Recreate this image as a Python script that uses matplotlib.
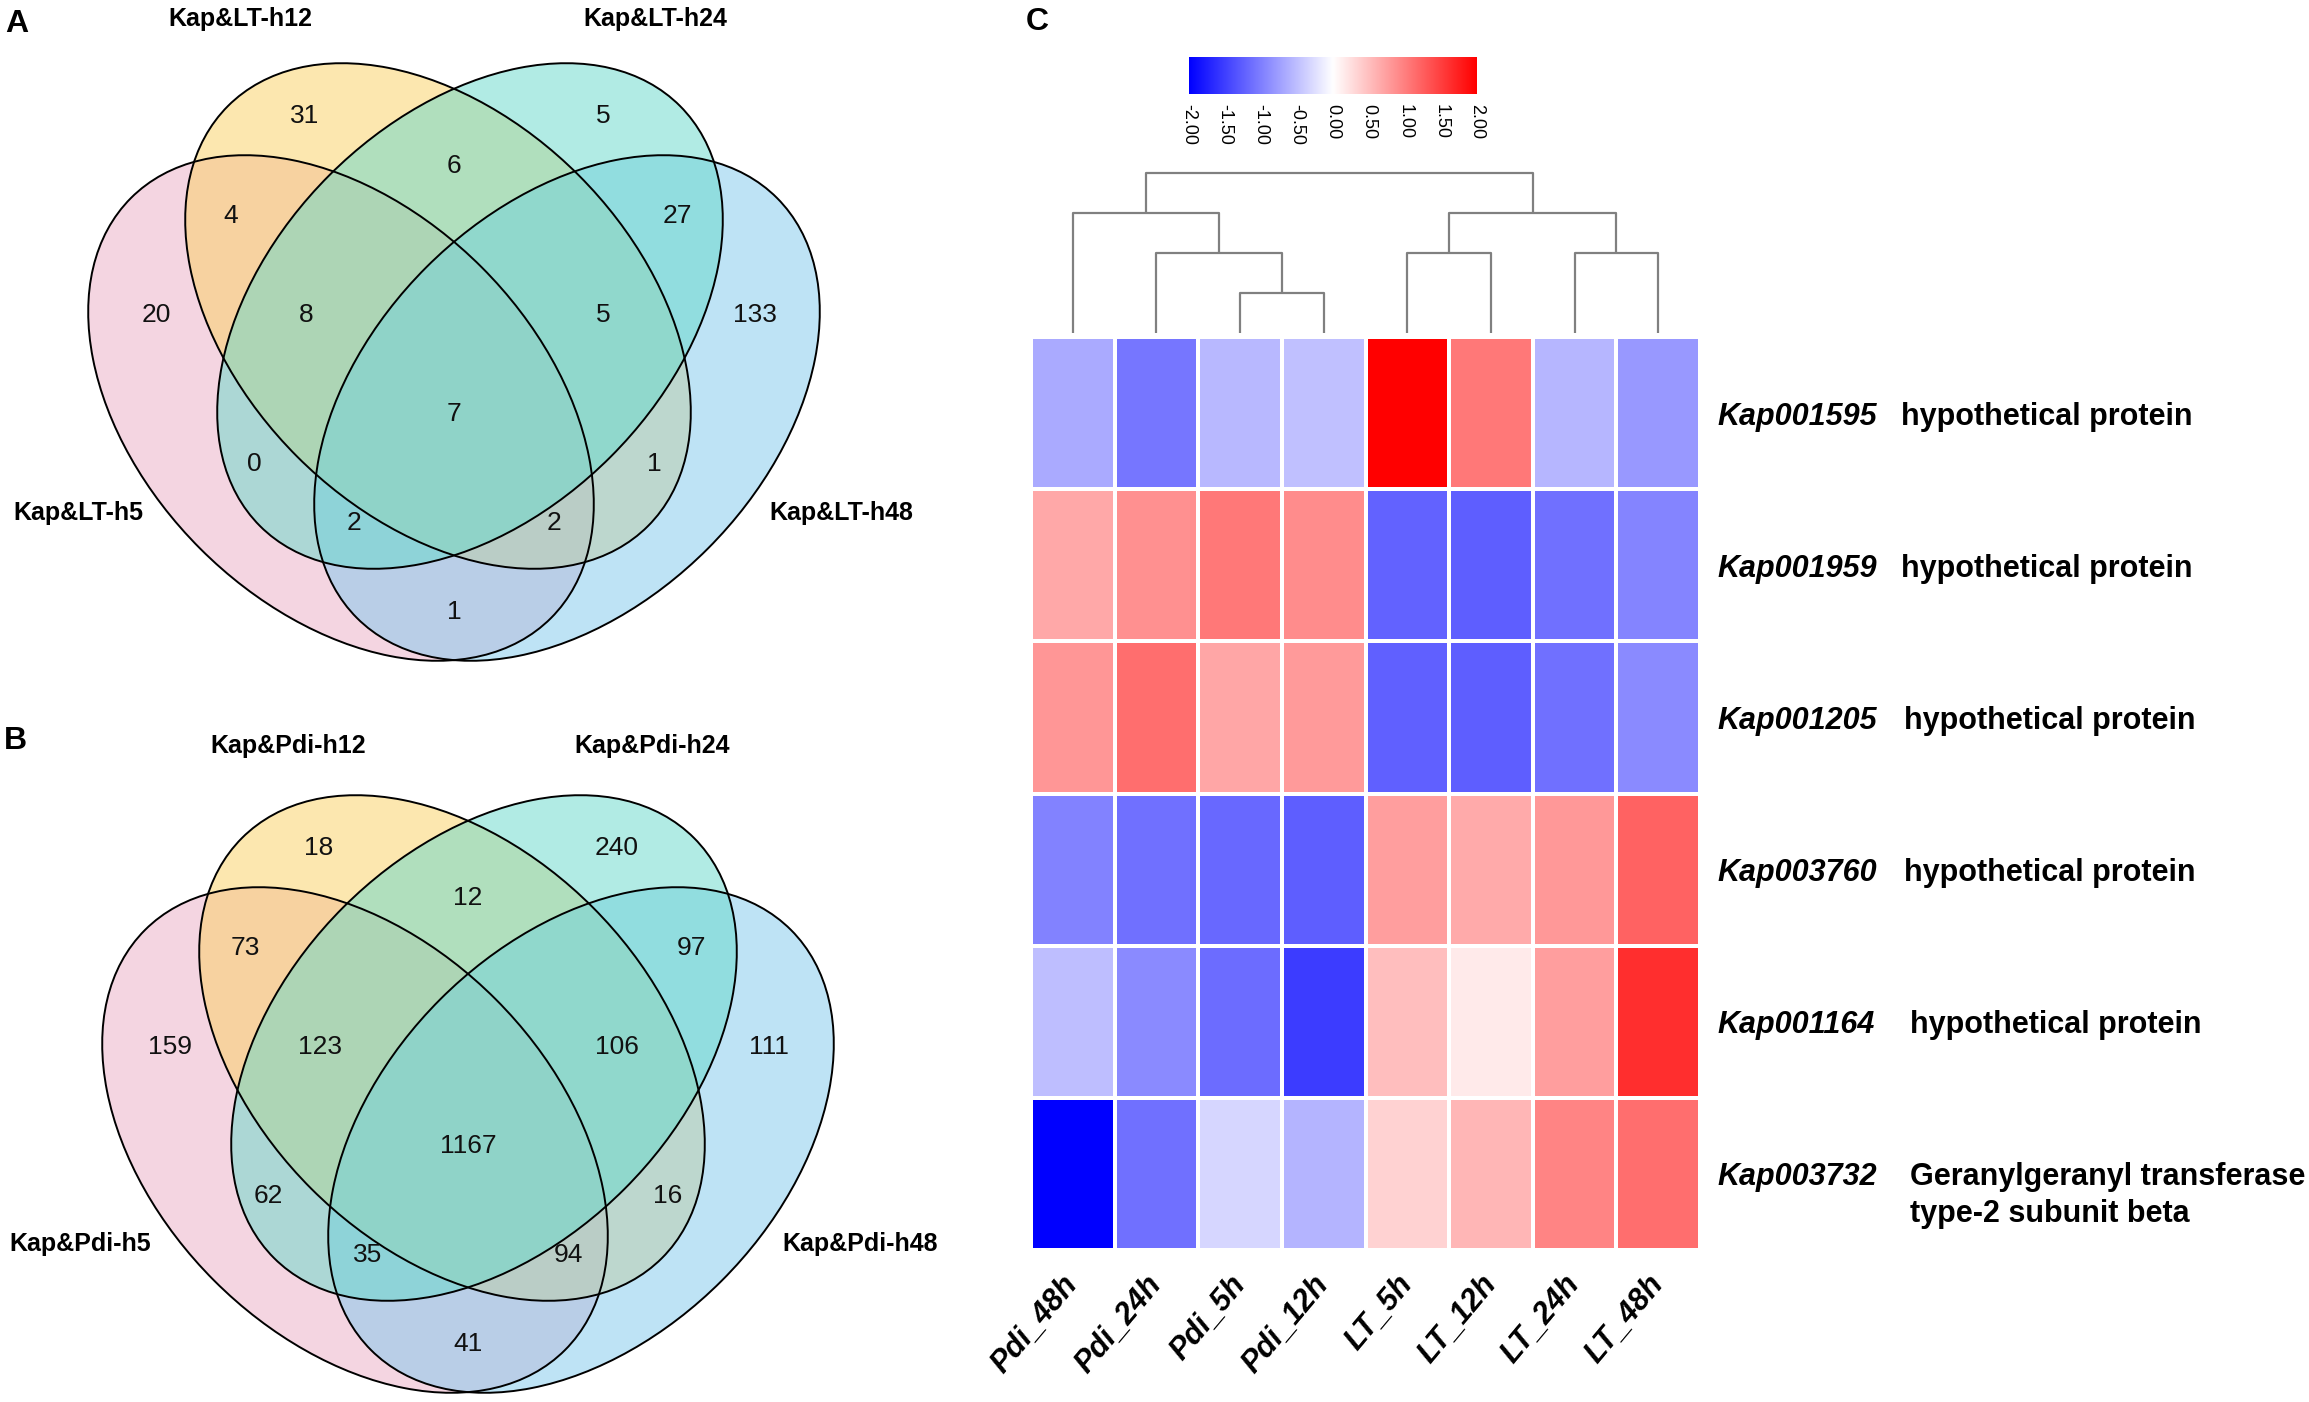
import numpy as np
import matplotlib
matplotlib.use("Agg")
import matplotlib.pyplot as plt
from matplotlib.patches import Ellipse
from matplotlib.colors import LinearSegmentedColormap

plt.rcParams['font.family'] = ['Liberation Sans', 'DejaVu Sans']

W, H = 2309, 1402

# ---------------- data ----------------
region_keys = ["h12", "h24", "h12&h24", "h5&h12", "h24&h48", "h5", "h5&h12&h24",
               "h12&h24&h48", "h48", "all", "h5&h24", "h12&h48", "h5&h24&h48",
               "h5&h12&h48", "h5&h48"]
lt_counts = [31, 5, 6, 4, 27, 20, 8, 5, 133, 7, 0, 1, 2, 2, 1]
pdi_counts = [18, 240, 12, 73, 97, 159, 123, 106, 111, 1167, 62, 16, 35, 94, 41]
lt_sets = ["Kap&LT-h5", "Kap&LT-h12", "Kap&LT-h24", "Kap&LT-h48"]
pdi_sets = ["Kap&Pdi-h5", "Kap&Pdi-h12", "Kap&Pdi-h24", "Kap&Pdi-h48"]

samples = ["Pdi_48h", "Pdi_24h", "Pdi_5h", "Pdi_12h", "LT_5h", "LT_12h", "LT_24h", "LT_48h"]
gene_ids = ["Kap001595", "Kap001959", "Kap001205", "Kap003760", "Kap001164", "Kap003732"]
gene_desc = ["hypothetical protein", "hypothetical protein", "hypothetical protein",
             "hypothetical protein", "hypothetical protein",
             "Geranylgeranyl transferase\ntype-2 subunit beta"]
expr = [
    [-0.67, -1.07, -0.55, -0.49, 2.00, 1.06, -0.57, -0.81],
    [0.68, 0.87, 1.06, 0.90, -1.23, -1.26, -1.12, -0.96],
    [0.82, 1.14, 0.70, 0.79, -1.25, -1.26, -1.11, -0.92],
    [-0.98, -1.12, -1.18, -1.26, 0.76, 0.67, 0.81, 1.23],
    [-0.51, -0.92, -1.15, -1.52, 0.51, 0.16, 0.76, 1.64],
    [-2.00, -1.11, -0.32, -0.59, 0.35, 0.57, 0.96, 1.14],
]
# column dendrogram merges: (left node, right node, height)
col_linkage = [(2, 3, 1), (1, 8, 2), (4, 5, 2), (6, 7, 2), (0, 9, 3), (10, 11, 3), (12, 13, 4)]
cbar_ticks = [-2.0, -1.5, -1.0, -0.5, 0.0, 0.5, 1.0, 1.5, 2.0]

# ---------------- layout / style ----------------
venn_fill = ["#ebadc5", "#fbd161", "#65d9cb", "#7fc9ed"]   # h5, h12, h24, h48
draw_order = [0, 1, 3, 2]
# ellipse geometry relative to (axis x, bottom y) in pixels, y up
ell_geom = [(-113, 253, 135), (-16, 345, 135), (16, 345, 45), (113, 253, 45)]
ELL_A, ELL_B = 297, 199
region_xy = [(-149, 545), (149, 545), (0, 495), (-223, 445), (223, 445), (-298, 346),
             (-148, 346), (149, 346), (301, 346), (0, 247), (-200, 197), (200, 197),
             (-100, 138), (100, 138), (0, 49)]

fig = plt.figure(figsize=(W / 100, H / 100), dpi=100)
canvas = fig.add_axes([0, 0, 1, 1])
canvas.set_xlim(0, W)
canvas.set_ylim(0, H)
canvas.axis('off')


def Y(ypx):
    return H - ypx


def px_axes(x0, y0, x1, y1):
    return fig.add_axes([x0 / W, 1 - y1 / H, (x1 - x0) / W, (y1 - y0) / H])


def draw_venn(cx, by, counts, names, label_pos):
    base_y = Y(by)
    for k in draw_order:
        dx, dy, ang = ell_geom[k]
        canvas.add_patch(Ellipse((cx + dx, base_y + dy), 2 * ELL_A, 2 * ELL_B, angle=ang,
                                 facecolor=venn_fill[k], alpha=0.5, edgecolor='none',
                                 zorder=2))
    for (dx, dy, ang) in ell_geom:
        canvas.add_patch(Ellipse((cx + dx, base_y + dy), 2 * ELL_A, 2 * ELL_B, angle=ang,
                                 facecolor='none', edgecolor='black', lw=1.4, zorder=3))
    for (rx, ry), c in zip(region_xy, counts):
        canvas.text(cx + rx, base_y + ry, str(c), ha='center', va='center',
                    fontsize=19, color='#111111', zorder=4)
    for name, (lx, ly) in zip(names, label_pos):
        canvas.text(lx, Y(ly), name, ha='center', va='center', fontsize=18,
                    fontweight='bold', zorder=4)


# panel A
draw_venn(454, 661, lt_counts, lt_sets,
          [(78, 513), (240, 19), (655, 19), (841, 513)])
# panel B
draw_venn(468, 1393, pdi_counts, pdi_sets,
          [(80, 1244), (288, 746), (652, 746), (860, 1244)])

for letter, (lx, ly) in zip("ABC", [(17, 24), (15, 741), (1037, 22)]):
    canvas.text(lx, Y(ly), letter, ha='center', va='center', fontsize=23, fontweight='bold')

# ---------------- heatmap ----------------
cmap = LinearSegmentedColormap.from_list("bwr2", ["#0000ff", "#ffffff", "#ff0000"])
data = np.array(expr)
hm = px_axes(1031, 337, 1700, 1250)
hm.pcolormesh(np.arange(len(samples) + 1), np.arange(len(gene_ids) + 1), data,
              cmap=cmap, vmin=-2, vmax=2, edgecolors='white', linewidth=1.6)
hm.set_xlim(0, len(samples))
hm.set_ylim(len(gene_ids), 0)
for s in hm.spines.values():
    s.set_visible(False)
hm.set_yticks([])
hm.set_xticks(np.arange(len(samples)) + 0.5)
hm.set_xticklabels(samples, rotation=50, ha='right', va='center', rotation_mode='anchor',
                   fontsize=22, fontweight='bold', fontstyle='italic')
hm.tick_params(axis='x', length=0, pad=21)

# row labels
row_h = (1250 - 337) / len(gene_ids)
desc_x = [1901, 1901, 1904, 1904, 1910, 1910]
for i, (gid, desc) in enumerate(zip(gene_ids, gene_desc)):
    yc = 337 + (i + 0.5) * row_h
    canvas.text(1717, Y(yc), gid, ha='left', va='center_baseline', fontsize=22,
                fontweight='bold', fontstyle='italic')
    for j, line in enumerate(desc.split("\n")):
        canvas.text(desc_x[i], Y(yc + 37 * j), line, ha='left', va='center_baseline',
                    fontsize=22, fontweight='bold')

# ---------------- dendrogram ----------------
dend = px_axes(1031, 165, 1700, 337)
dend.set_xlim(0, len(samples))
dend.set_ylim(-0.1, 4.2)
dend.axis('off')
pos = {i: i + 0.5 for i in range(len(samples))}
hgt = {i: 0.0 for i in range(len(samples))}
for k, (l, r, h) in enumerate(col_linkage):
    node = len(samples) + k
    dend.plot([pos[l], pos[l], pos[r], pos[r]], [hgt[l], h, h, hgt[r]],
              color='#808080', lw=1.6, solid_capstyle='butt')
    pos[node] = (pos[l] + pos[r]) / 2
    hgt[node] = h

# ---------------- colorbar ----------------
cax = px_axes(1189, 57, 1477, 94)
grad = np.linspace(-2, 2, 512).reshape(1, -1)
cax.imshow(grad, cmap=cmap, vmin=-2, vmax=2, aspect='auto', extent=[-2, 2, 0, 1])
cax.set_xlim(-2, 2)
cax.set_yticks([])
for s in cax.spines.values():
    s.set_visible(False)
cax.set_xticks(cbar_ticks)
cax.set_xticklabels([f"{t:.2f}" for t in cbar_ticks], rotation=-90, fontsize=13)
cax.tick_params(axis='x', length=0, pad=7)

fig.savefig("out.png", dpi=100)
